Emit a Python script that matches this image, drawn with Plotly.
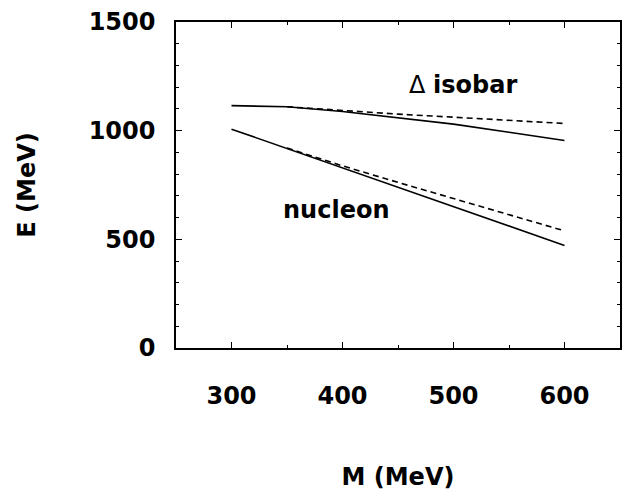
import plotly.graph_objects as go

# Data
m_solid = [300, 350, 400, 450, 500, 550, 600]
delta_solid = [1115, 1110, 1088, 1060, 1030, 993, 955]
nucleon_solid = [1007, 918, 829, 740, 650, 561, 472]

m_dashed = [350, 400, 450, 500, 550, 600]
delta_dashed = [1110, 1092, 1076, 1062, 1047, 1033]
nucleon_dashed = [920, 838, 762, 687, 612, 539]

x_ticks = [300, 400, 500, 600]
y_ticks = [0, 500, 1000, 1500]

FONT = "DejaVu Sans"
fsize = 24

fig = go.Figure()
line_solid = dict(color="black", width=1.6)
line_dash = dict(color="black", width=1.6, dash="6px,4px")

fig.add_trace(go.Scatter(x=m_solid, y=delta_solid, mode="lines", line=line_solid, showlegend=False))
fig.add_trace(go.Scatter(x=m_dashed, y=delta_dashed, mode="lines", line=line_dash, showlegend=False))
fig.add_trace(go.Scatter(x=m_solid, y=nucleon_solid, mode="lines", line=line_solid, showlegend=False))
fig.add_trace(go.Scatter(x=m_dashed, y=nucleon_dashed, mode="lines", line=line_dash, showlegend=False))

fig.add_annotation(x=509, y=1210, text="Δ <b>isobar</b>", showarrow=False,
                   font=dict(family=FONT, size=fsize, color="black"))
fig.add_annotation(x=394, y=635, text="<b>nucleon</b>", showarrow=False,
                   font=dict(family=FONT, size=fsize, color="black"))

axis_common = dict(
    showgrid=False, zeroline=False, showline=True, linecolor="black", linewidth=1.5,
    mirror="allticks", ticks="inside", ticklen=6, tickwidth=1.2, tickcolor="black",
    tickfont=dict(family=FONT, size=fsize, color="black"),
)

fig.update_xaxes(
    range=[250, 650], tickvals=x_ticks, ticktext=[f"<b>{v}</b>" for v in x_ticks],
    minor=dict(dtick=50, tick0=250, ticks="inside", ticklen=3, tickcolor="black", tickwidth=1),
    ticklabelstandoff=25,
    title=dict(text="<b>M (MeV)</b>", font=dict(family=FONT, size=fsize, color="black"), standoff=60),
    **axis_common,
)
fig.update_yaxes(
    range=[0, 1500], tickvals=y_ticks, ticktext=[f"<b>{v}</b>" for v in y_ticks],
    minor=dict(dtick=100, tick0=0, ticks="inside", ticklen=3, tickcolor="black", tickwidth=1),
    ticklabelstandoff=14,
    title=dict(text="<b>E (MeV)</b>", font=dict(family=FONT, size=fsize, color="black"), standoff=46),
    **axis_common,
)

fig.update_layout(
    width=630, height=498,
    margin=dict(l=176, r=8, t=14, b=150),
    paper_bgcolor="white", plot_bgcolor="white",
)

fig.write_html("out.html")
